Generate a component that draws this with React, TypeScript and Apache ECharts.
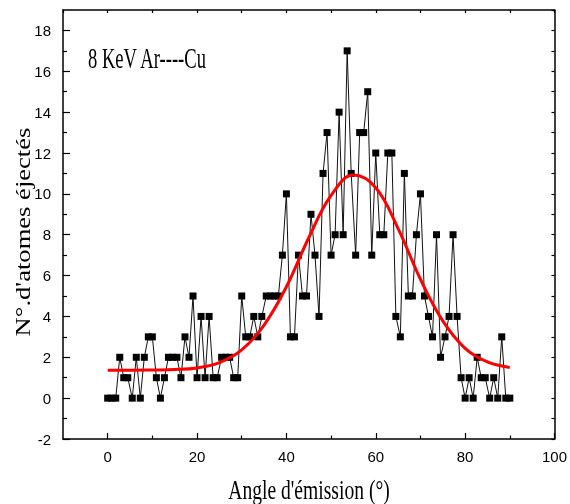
import React, { useEffect, useRef } from "react";
import * as echarts from "echarts";

// Emission angle (degrees) of each simulated point
const angles = [
  0.0, 0.9, 1.8, 2.7, 3.6, 4.5, 5.5, 6.4, 7.3, 8.2,
  9.1, 10.0, 10.9, 11.8, 12.7, 13.6, 14.5, 15.5, 16.4, 17.3,
  18.2, 19.1, 20.0, 20.9, 21.8, 22.7, 23.6, 24.5, 25.5, 26.4,
  27.3, 28.2, 29.1, 30.0, 30.9, 31.8, 32.7, 33.6, 34.5, 35.5,
  36.4, 37.3, 38.2, 39.1, 40.0, 40.9, 41.8, 42.7, 43.6, 44.5,
  45.5, 46.4, 47.3, 48.2, 49.1, 50.0, 50.9, 51.8, 52.7, 53.6,
  54.5, 55.5, 56.4, 57.3, 58.2, 59.1, 60.0, 60.9, 61.8, 62.7,
  63.6, 64.5, 65.5, 66.4, 67.3, 68.2, 69.1, 70.0, 70.9, 71.8,
  72.7, 73.6, 74.5, 75.5, 76.4, 77.3, 78.2, 79.1, 80.0, 80.9,
  81.8, 82.7, 83.6, 84.5, 85.5, 86.4, 87.3, 88.2, 89.1, 90.0,
];

// Number of ejected atoms
const counts = [
  0, 0, 0, 2, 1, 1, 0, 2, 0, 2,
  3, 3, 1, 0, 1, 2, 2, 2, 1, 3,
  2, 5, 1, 4, 1, 4, 1, 1, 2, 2,
  2, 1, 1, 5, 3, 3, 4, 3, 4, 5,
  5, 5, 5, 7, 10, 3, 3, 7, 5, 5,
  9, 7, 4, 11, 13, 7, 8, 14, 8, 17,
  11, 7, 13, 13, 15, 7, 12, 8, 8, 12,
  12, 4, 3, 11, 5, 5, 8, 10, 5, 4,
  3, 8, 2, 3, 4, 8, 4, 1, 0, 1,
  0, 2, 1, 1, 0, 1, 0, 3, 0, 0,
];

// Fitted curve
const fitAngles = [0, 5, 10, 15, 20, 25, 30, 35, 40, 45, 50, 55, 60, 65, 70, 75, 80, 85, 90];
const fitCounts = [1.37, 1.37, 1.38, 1.4, 1.48, 1.74, 2.36, 3.58, 5.45, 7.85, 9.92, 10.92, 10.3, 8.3, 5.82, 3.78, 2.44, 1.77, 1.5];

const xTickLabels = [0, 20, 40, 60, 80, 100];
const xMinorTicks = [10, 30, 50, 70, 90];
const yTickLabels = [-2, 0, 2, 4, 6, 8, 10, 12, 14, 16, 18];
const yMinorTicks = [-1, 1, 3, 5, 7, 9, 11, 13, 15, 17];

const annotation = "8 KeV Ar----Cu";
const xTitle = "Angle d'émission (°)";
const yTitle = "N°.d'atomes éjectés";

export default function App() {
  const ref = useRef<HTMLDivElement>(null);

  useEffect(() => {
    document.body.style.margin = "0";
    const chart = echarts.init(ref.current!, null, { renderer: "svg" });
    const lineStyle = { color: "#000", width: 1.5 };
    const axisLine = { show: true, onZero: false, lineStyle };
    const tickStyle = { color: "#000", width: 1.2 };
    const labelStyle = { color: "#000", fontFamily: "Liberation Sans", fontSize: 15 };
    const serif = "Liberation Serif";

    chart.setOption({
      animation: false,
      grid: { left: 63, right: 14, top: 10, bottom: 65 },
      xAxis: [
        {
          type: "value", position: "bottom", min: -10, max: 100,
          axisLine, splitLine: { show: false },
          axisTick: { show: true, inside: true, length: 6, customValues: xTickLabels, lineStyle: tickStyle },
          axisLabel: { ...labelStyle, customValues: xTickLabels, margin: 10 },
        },
        {
          type: "value", position: "bottom", min: -10, max: 100,
          axisLine: { show: false, onZero: false }, splitLine: { show: false },
          axisTick: { show: true, inside: true, length: 3.5, customValues: xMinorTicks, lineStyle: tickStyle },
          axisLabel: { show: false },
        },
        {
          type: "value", position: "top", min: -10, max: 100, interval: 10,
          axisLine, splitLine: { show: false },
          axisTick: { show: true, inside: true, length: 3, lineStyle: tickStyle },
          axisLabel: { show: false },
        },
      ],
      yAxis: [
        {
          type: "value", position: "left", min: -2, max: 19,
          axisLine, splitLine: { show: false },
          axisTick: { show: true, inside: true, length: 7, customValues: yTickLabels, lineStyle: tickStyle },
          axisLabel: { ...labelStyle, customValues: yTickLabels, margin: 12 },
        },
        {
          type: "value", position: "left", min: -2, max: 19,
          axisLine: { show: false, onZero: false }, splitLine: { show: false },
          axisTick: { show: true, inside: true, length: 4, customValues: yMinorTicks, lineStyle: tickStyle },
          axisLabel: { show: false },
        },
        {
          type: "value", position: "right", min: -2, max: 19, interval: 1,
          axisLine, splitLine: { show: false },
          axisTick: { show: true, inside: true, length: 3, lineStyle: tickStyle },
          axisLabel: { show: false },
        },
      ],
      series: [
        {
          type: "line",
          xAxisIndex: 0,
          yAxisIndex: 0,
          data: angles.map((a, i) => [a, counts[i]]),
          symbol: "rect",
          symbolSize: 7,
          showAllSymbol: true,
          itemStyle: { color: "#000" },
          lineStyle: { color: "#111", width: 1 },
          z: 2,
        },
        {
          type: "line",
          xAxisIndex: 0,
          yAxisIndex: 0,
          data: fitAngles.map((a, i) => [a, fitCounts[i]]),
          smooth: 0.4,
          symbol: "none",
          lineStyle: { color: "#ff0000", width: 3 },
          z: 3,
        },
      ],
      graphic: [
        {
          type: "text", x: 88, y: 58, scaleX: 0.62,
          style: { text: annotation, fontFamily: serif, fontSize: 30, fill: "#000", align: "left", verticalAlign: "middle" },
        },
        {
          type: "text", x: 309, y: 489, scaleX: 0.7,
          style: { text: xTitle, fontFamily: serif, fontSize: 28, fill: "#000", align: "center", verticalAlign: "middle" },
        },
        {
          type: "text", x: 23, y: 232, rotation: Math.PI / 2, scaleX: 1.33,
          style: { text: yTitle, fontFamily: serif, fontSize: 20, fill: "#000", align: "center", verticalAlign: "middle" },
        },
      ],
    });
    return () => chart.dispose();
  }, []);

  return <div ref={ref} style={{ position: "fixed", left: 0, top: 0, width: 570, height: 504 }} />;
}
